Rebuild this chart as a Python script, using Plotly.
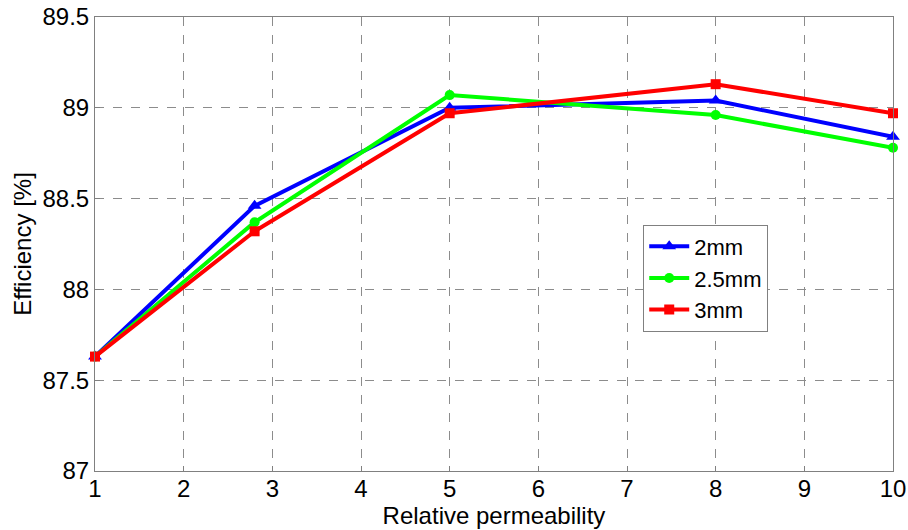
import plotly.graph_objects as go

x_vals = [1, 2.8, 5, 8, 10]
eff_2mm = [87.63, 88.46, 89.00, 89.04, 88.84]
eff_25mm = [87.63, 88.37, 89.07, 88.96, 88.78]
eff_3mm = [87.63, 88.32, 88.97, 89.13, 88.97]
series_names = ["2mm", "2.5mm", "3mm"]
x_ticks = [1, 2, 3, 4, 5, 6, 7, 8, 9, 10]
y_ticks = [87, 87.5, 88, 88.5, 89, 89.5]

font_fam = "Liberation Sans, Arial, sans-serif"

fig = go.Figure()
styles = [
    (eff_2mm, "#0000ff", "triangle-up", 12),
    (eff_25mm, "#00ff00", "circle", 10),
    (eff_3mm, "#ff0000", "square", 10),
]
for name, (vals, col, sym, sz) in zip(series_names, styles):
    fig.add_trace(go.Scatter(
        x=x_vals, y=vals, name=name, mode="lines+markers",
        line=dict(color=col, width=4),
        marker=dict(symbol=sym, size=sz, color=col),
        cliponaxis=False,
    ))

axis_common = dict(
    showgrid=True, gridcolor="#8c8c8c", griddash="dash", gridwidth=1,
    showline=True, linecolor="#808080", linewidth=1, mirror=True,
    ticks="inside", ticklen=5, tickcolor="#808080",
    zeroline=False, automargin=False, ticklabeloverflow="allow",
    tickfont=dict(family=font_fam, size=24, color="black"),
)

fig.update_layout(
    width=908, height=530,
    margin=dict(l=95, r=15, t=17, b=59),
    paper_bgcolor="white", plot_bgcolor="white",
    xaxis=dict(range=[1, 10], tickvals=x_ticks, ticklabelstandoff=-4,
               title=dict(text="Relative permeability", standoff=0,
                          font=dict(family=font_fam, size=24, color="black")),
               **axis_common),
    yaxis=dict(range=[87, 89.5], tickvals=y_ticks, ticktext=[str(v) for v in y_ticks],
               title=dict(text="Efficiency [%]", standoff=4,
                          font=dict(family=font_fam, size=24, color="black")),
               **axis_common),
    legend=dict(x=0.687, y=0.425, xanchor="left", yanchor="middle",
                bgcolor="white", bordercolor="#808080", borderwidth=1,
                font=dict(family=font_fam, size=22, color="black"),
                itemwidth=40, tracegroupgap=0),
    showlegend=True,
)

fig.write_html("out.html", config={"displayModeBar": False},
               post_script="document.body.style.margin='0';")
